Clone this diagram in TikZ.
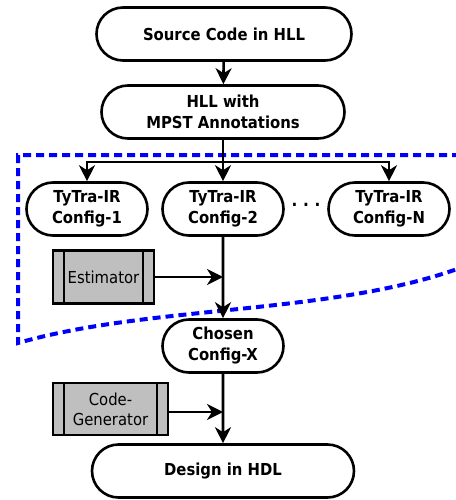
\documentclass[tikz,border=0pt]{standalone}
\usepackage{fontspec}
\setmainfont{DejaVu Sans}[FakeStretch=0.9]
\usetikzlibrary{shapes.misc,arrows.meta}
\tikzset{
    stage/.style={rounded rectangle, draw, line width=2.6pt, fill=white,
        align=center, font=\fontsize{16.5}{21}\selectfont\bfseries,
        minimum height=53pt, inner xsep=4pt},
    tool/.style={rectangle, draw, line width=2.3pt, fill=black!25,
        align=center, font=\fontsize{16.5}{20}\selectfont,
        minimum height=53pt, inner xsep=14pt,
        path picture={
            \draw[line width=2.3pt]
                ([xshift=11pt]path picture bounding box.north west) --
                ([xshift=11pt]path picture bounding box.south west)
                ([xshift=-11pt]path picture bounding box.north east) --
                ([xshift=-11pt]path picture bounding box.south east);
        }},
    flow/.style={line width=2.6pt, -{Stealth[length=16pt,width=16pt,inset=5pt]}},
    region/.style={blue, line width=4pt, dash pattern=on 8pt off 5pt}
}
\begin{document}
\begin{tikzpicture}[x=1pt,y=-1pt]
    \useasboundingbox (0,0) rectangle (455,500);
    % design space region
    \draw[region] (460,155) -- (18,155) -- (18,343)
        .. controls (150,305) and (330,315) .. (460,268);
    % stages
    \node[stage, minimum width=263pt] (src) at (224,34) {Source Code in HLL};
    \node[stage, minimum width=251pt] (mpst) at (223,112) {HLL with\\MPST Annotations};
    \node[stage, minimum width=129pt] (cfga) at (87,209) {TyTra-IR\\Config-1};
    \node[stage, minimum width=129pt] (cfgb) at (223,209) {TyTra-IR\\Config-2};
    \node[stage, minimum width=129pt] (cfgn) at (389,209) {TyTra-IR\\Config-N};
    \node[stage, minimum width=129pt] (chosen) at (223,346) {Chosen\\Config-X};
    \node[stage, minimum width=270pt] (hdl) at (223,471) {Design in HDL};
    \node[font=\bfseries\fontsize{17}{17}\selectfont] (dots) at (306,205) {.\,\,.\,\,.};
    % tools
    \node[tool, minimum width=101pt] (est) at (103.5,277) {Estimator};
    \node[tool, minimum width=115pt, minimum height=52pt] (gen) at (110.5,409) {Code-\\Generator};
    % connectors
    \coordinate (split) at (223,162);
    \coordinate (estin) at (223,277);
    \coordinate (genin) at (223,412);
    \draw[flow] (src) -- (mpst);
    \draw[line width=2.6pt] (mpst) -- (split);
    \draw[flow] (split) -- (cfgb);
    \draw[flow] (split) -| (cfga);
    \draw[flow] (split) -| (cfgn);
    \draw[flow] (cfgb) -- (chosen);
    \draw[flow] (est) -- (estin);
    \draw[flow] (chosen) -- (hdl);
    \draw[flow] (gen.east |- genin) -- (genin);
\end{tikzpicture}
\end{document}
